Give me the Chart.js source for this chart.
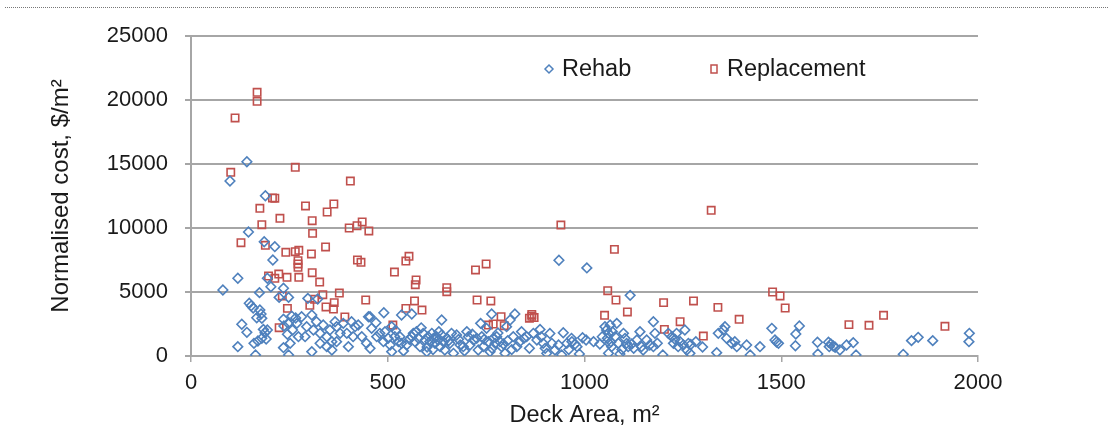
<!DOCTYPE html>
<html>
<head>
<meta charset="utf-8">
<script src="https://cdn.jsdelivr.net/npm/chart.js@4"></script>
<style>
  html, body { margin: 0; padding: 0; background: #fff; }
  #wrap { position: relative; width: 1113px; height: 431px; }
  #dots { position: absolute; left: 5px; top: 7px; width: 1103px; border-top: 1px dotted #777; }
  canvas { position: absolute; left: 0; top: 0; }
</style>
</head>
<body>
<div id="wrap">
  <canvas id="c" width="1113" height="431"></canvas>
  <div id="dots"></div>
</div>
<script>
const seriesNames = ['Rehab', 'Replacement'];
const xTitle = 'Deck Area, m²';
const yTitle = 'Normalised cost, $/m²';
const xTicks = [0, 500, 1000, 1500, 2000];
const yTicks = [0, 5000, 10000, 15000, 20000, 25000];

const rehabArea = [142,99,189,146,186,213,208,119,194,203,81,174,235,224,248,297,322,148,153,158,175,178,167,180,129,142,184,188,194,180,191,160,170,119,164,235,248,235,236,247,256,266,258,245,281,294,307,311,319,328,336,345,353,358,366,370,379,387,396,408,417,425,434,451,273,252,307,345,358,290,269,328,370,400,412,446,459,455,490,637,535,561,510,823,811,802,764,736,946,912,887,840,846,935,1006,1116,
472,480,493,489,501,506,510,518,527,531,535,548,561,565,569,573,578,582,590,595,599,603,607,612,616,620,624,628,633,637,641,645,650,658,662,667,675,684,692,701,705,709,718,726,730,739,743,751,756,760,768,773,777,785,789,794,798,819,828,853,870,879,895,904,917,925,934,942,955,967,
995,1004,968,976,981,987,1023,1039,1052,1056,1061,1065,1058,1063,1061,1069,1082,1078,1086,1090,1099,1103,1107,1111,1120,1133,1141,1145,1149,1158,1166,1175,1179,1175,1199,1213,1222,1226,1234,1238,1243,1251,1255,1260,1264,1268,1283,1336,1340,1353,1357,1361,1374,1382,1387,1412,1421,1446,1476,1484,1493,
1546,1537,1536,1488,1592,1593,1620,1626,1632,1622,1637,1649,1666,1683,1690,1810,1831,1848,1885,1978,1977,
455,470,520,540,555,585,600,615,630,655,680,695,715,745,765,780,805,815,835,860,890,900,960,1045,1067,1071,1095,1125,1185,1230,1270,1300];
const rehabCost = [15180,13670,12520,9690,8930,8540,7500,6070,6070,5410,5160,4950,5290,4580,4580,4500,4450,4120,3930,3750,3590,3280,2990,2940,2480,1850,2080,1820,2030,1380,1330,990,1170,730,80,650,80,2870,2340,2550,3120,2970,2030,1700,3070,2290,3200,2030,2680,1770,2420,1510,2030,1120,2680,2290,1770,2550,1770,2680,2290,2420,1510,3070,1510,990,340,730,470,1510,2550,990,1120,730,1510,990,2160,3070,3380,2810,3200,3280,2290,3280,2810,2290,3280,2550,1820,1760,2080,1900,1380,7480,6880,4740,
1510,1770,1900,1120,1380,860,340,1510,1120,1510,990,860,1510,1770,1120,1900,1380,730,1770,1250,340,1510,1120,1770,1380,990,1510,1250,730,1640,1120,470,1380,990,1770,210,1640,860,730,1900,1510,860,1250,1380,470,1510,730,2160,1120,340,1380,990,1510,1120,730,940,210,1510,730,1510,1770,1250,990,210,990,470,860,80,990,1380,
1430,1250,1120,940,730,160,1120,940,2290,2030,1770,2420,1380,990,210,730,2550,1510,990,160,1770,1380,990,730,940,1250,1900,730,470,1250,860,2680,1770,730,80,1770,1510,990,1770,730,1120,860,2030,470,990,210,1120,260,1770,2030,2290,1380,990,1120,730,860,80,730,2160,1250,990,
2340,1720,800,1090,1070,160,1070,940,780,730,680,470,860,1040,80,130,1200,1460,1200,1770,1120,
600,2600,2000,400,1300,2200,700,500,1900,1200,1300,400,1700,1300,600,1800,1200,500,1100,600,1500,600,500,1500,1100,1900,500,600,1000,1300,900,700];

const replArea = [168,168,112,101,265,405,207,213,175,291,363,346,226,308,180,435,422,402,452,309,127,189,241,265,274,306,342,272,272,272,423,432,197,223,213,244,274,308,327,232,377,335,314,302,444,364,343,362,245,391,224,940,554,546,517,723,750,572,570,650,650,568,546,587,727,762,513,756,768,788,796,860,866,872,866,1322,1076,1059,1080,1051,1109,1201,1277,1339,1393,1203,1243,1302,1478,1497,1510,1672,1723,1760,1916];
const replCost = [20600,19900,18600,14350,14740,13670,12350,12330,11540,11720,11875,11250,10760,10570,10260,10470,10180,10000,9770,9580,8850,8645,8100,8150,8260,7970,8520,7450,7190,6930,7500,7320,6250,6400,6070,6150,6150,6510,5780,4690,4920,4790,4430,3960,4375,4170,3830,3670,3720,3050,2210,10230,7790,7420,6560,6720,7190,5940,5570,5340,5020,4300,3720,3590,4375,4300,2420,2420,2500,3070,2370,2950,3100,3000,3250,11380,8330,5100,4375,3180,3440,4170,4300,3800,2870,2080,2680,1560,5000,4690,3750,2450,2400,3180,2320];

const BLUE = '#4F81BD';
const RED = '#C0504D';
const FONT = 'Liberation Sans, Arial, sans-serif';
const TXT = '#1a1a1a';
const GRID = '#A6A6A6';

function pts(xs, ys) { return xs.map((x, i) => ({ x: x, y: ys[i] })); }

const legendPlugin = {
  id: 'customLegend',
  afterDraw(chart) {
    const ctx = chart.ctx;
    ctx.save();
    const y = 69;
    ctx.strokeStyle = BLUE; ctx.lineWidth = 1.5;
    ctx.beginPath();
    const dx = 549, r = 4;
    ctx.moveTo(dx, y - r); ctx.lineTo(dx + r, y); ctx.lineTo(dx, y + r); ctx.lineTo(dx - r, y); ctx.closePath();
    ctx.stroke();
    ctx.strokeStyle = RED;
    ctx.strokeRect(714 - 3, y - 4, 6, 8);
    ctx.fillStyle = TXT;
    ctx.font = '23.5px ' + FONT;
    ctx.textBaseline = 'middle';
    ctx.textAlign = 'left';
    ctx.fillText(seriesNames[0], 562, y + 1);
    ctx.fillText(seriesNames[1], 727, y + 1);
    ctx.restore();
  }
};

new Chart(document.getElementById('c'), {
  type: 'scatter',
  data: {
    datasets: [
      { label: seriesNames[0], data: pts(rehabArea, rehabCost), pointStyle: 'rectRot', pointRadius: 4.8,
        borderColor: BLUE, backgroundColor: 'rgba(255,255,255,0)', pointBorderWidth: 1.6 },
      { label: seriesNames[1], data: pts(replArea, replCost), pointStyle: 'rect', pointRadius: 5.2,
        borderColor: RED, backgroundColor: 'rgba(255,255,255,0)', pointBorderWidth: 1.6 }
    ]
  },
  options: {
    responsive: false,
    animation: false,
    layout: { padding: { left: 0, top: 36, right: 135, bottom: 0 } },
    plugins: { legend: { display: false }, tooltip: { enabled: false } },
    scales: {
      x: {
        type: 'linear', min: 0, max: 2000,
        afterBuildTicks(s) { s.ticks = xTicks.map(v => ({ value: v })); },
        afterFit(s) { s.height = 75; },
        ticks: { color: TXT, font: { family: FONT, size: 22 }, padding: 8, callback: v => String(v) },
        grid: { drawOnChartArea: false, drawTicks: true, tickLength: 6, color: GRID, lineWidth: 1.5 },
        border: { color: GRID, width: 2 },
        title: { display: true, text: xTitle, color: TXT, font: { family: FONT, size: 23.5 }, padding: { top: 0, bottom: 1 } }
      },
      y: {
        type: 'linear', min: 0, max: 25000,
        afterBuildTicks(s) { s.ticks = yTicks.map(v => ({ value: v })); },
        afterFit(s) { s.width = 191; },
        ticks: { color: TXT, font: { family: FONT, size: 22 }, padding: 17, callback: v => String(v) },
        grid: { drawOnChartArea: true, drawTicks: true, tickLength: 6, color: GRID, lineWidth: 2 },
        border: { color: GRID, width: 2 },
        title: { display: true, text: yTitle, color: TXT, font: { family: FONT, size: 24 }, padding: { top: 47, bottom: 0 } }
      }
    }
  },
  plugins: [legendPlugin]
});
</script>
</body>
</html>
